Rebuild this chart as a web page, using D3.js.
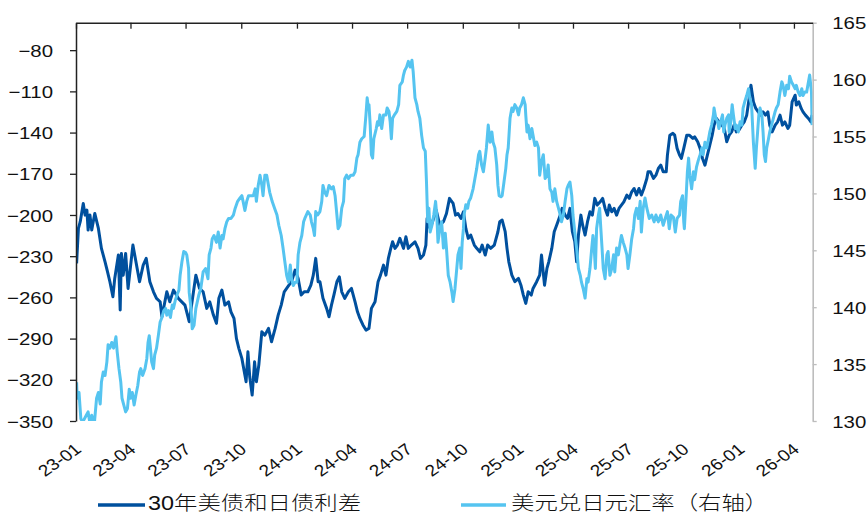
<!DOCTYPE html>
<html>
<head>
<meta charset="utf-8">
<script src="https://cdn.jsdelivr.net/npm/d3@7"></script>
<style>
  html, body { margin: 0; padding: 0; background: #fff; }
  svg { display: block; }
</style>
</head>
<body>
<svg id="chart" width="867" height="515"></svg>
<script>
// 30-year UST minus JGB yield spread (bp, left axis)
const spreadDates = [
  "2023-01-02","2023-01-05","2023-01-08","2023-01-13","2023-01-16","2023-01-19","2023-01-21","2023-01-24","2023-01-27",
  "2023-02-01","2023-02-07","2023-02-12","2023-02-18","2023-02-22","2023-02-26",
  "2023-03-03","2023-03-06","2023-03-12","2023-03-15","2023-03-17","2023-03-20","2023-03-24","2023-03-28",
  "2023-04-05","2023-04-08","2023-04-16","2023-04-22","2023-04-27",
  "2023-05-03","2023-05-09","2023-05-14","2023-05-20","2023-05-23","2023-05-31",
  "2023-06-05","2023-06-11","2023-06-19","2023-06-30",
  "2023-07-07","2023-07-18","2023-07-24","2023-07-30",
  "2023-08-05","2023-08-10","2023-08-16","2023-08-21","2023-08-25","2023-08-30",
  "2023-09-04","2023-09-10","2023-09-14","2023-09-19","2023-09-23","2023-09-27",
  "2023-10-02","2023-10-06","2023-10-09","2023-10-12","2023-10-15","2023-10-19","2023-10-23","2023-10-26","2023-10-30",
  "2023-11-04","2023-11-09","2023-11-15","2023-11-20","2023-11-26",
  "2023-12-01","2023-12-06","2023-12-11","2023-12-17","2023-12-23","2023-12-29",
  "2024-01-03","2024-01-08","2024-01-13","2024-01-19","2024-01-24","2024-01-28",
  "2024-02-01","2024-02-05","2024-02-08","2024-02-13","2024-02-19","2024-02-23","2024-02-27",
  "2024-03-02","2024-03-07","2024-03-11","2024-03-15","2024-03-20","2024-03-26","2024-03-31",
  "2024-04-06","2024-04-10","2024-04-14","2024-04-19","2024-04-24","2024-04-29",
  "2024-05-03","2024-05-09","2024-05-14","2024-05-18","2024-05-23","2024-05-27","2024-05-31",
  "2024-06-04","2024-06-07","2024-06-11","2024-06-15","2024-06-19","2024-06-25","2024-06-29",
  "2024-07-03","2024-07-08","2024-07-14","2024-07-19","2024-07-23","2024-07-28",
  "2024-08-01","2024-08-03","2024-08-08","2024-08-12","2024-08-18","2024-08-24","2024-08-30",
  "2024-09-04","2024-09-09","2024-09-11","2024-09-15","2024-09-19","2024-09-23","2024-09-28",
  "2024-10-02","2024-10-06","2024-10-10","2024-10-14","2024-10-20","2024-10-24","2024-10-29",
  "2024-11-02","2024-11-07","2024-11-11","2024-11-16","2024-11-22","2024-11-28",
  "2024-12-01","2024-12-05","2024-12-10","2024-12-13","2024-12-16","2024-12-21","2024-12-26",
  "2025-01-01","2025-01-05","2025-01-09","2025-01-13","2025-01-17","2025-01-22","2025-01-25","2025-01-31",
  "2025-02-05","2025-02-08","2025-02-13","2025-02-17","2025-02-20","2025-02-25",
  "2025-03-01","2025-03-05","2025-03-11","2025-03-14","2025-03-19","2025-03-23","2025-03-27","2025-03-31",
  "2025-04-04","2025-04-07","2025-04-10","2025-04-14","2025-04-17","2025-04-21","2025-04-25","2025-04-29",
  "2025-05-03","2025-05-07","2025-05-11","2025-05-16","2025-05-20","2025-05-24","2025-05-28","2025-05-31",
  "2025-06-04","2025-06-08","2025-06-12","2025-06-16","2025-06-20","2025-06-24","2025-06-29",
  "2025-07-03","2025-07-07","2025-07-11","2025-07-15","2025-07-19","2025-07-23","2025-07-27",
  "2025-08-01","2025-08-03","2025-08-07","2025-08-12","2025-08-16","2025-08-20","2025-08-24","2025-08-28",
  "2025-09-02","2025-09-04","2025-09-08","2025-09-13","2025-09-16","2025-09-20","2025-09-24","2025-09-27",
  "2025-10-01","2025-10-06","2025-10-10","2025-10-16","2025-10-19","2025-10-24","2025-10-28",
  "2025-11-01","2025-11-05","2025-11-09","2025-11-13","2025-11-17","2025-11-20","2025-11-24","2025-11-28",
  "2025-12-03","2025-12-07","2025-12-11","2025-12-15","2025-12-19","2025-12-23","2025-12-27","2025-12-31",
  "2026-01-05","2026-01-09","2026-01-13","2026-01-17","2026-01-20","2026-01-24","2026-01-28",
  "2026-02-01","2026-02-05","2026-02-09","2026-02-13","2026-02-17","2026-02-20","2026-02-24",
  "2026-03-01","2026-03-05","2026-03-09","2026-03-13","2026-03-17","2026-03-22","2026-03-25","2026-03-29",
  "2026-04-03","2026-04-05","2026-04-09","2026-04-13","2026-04-16","2026-04-20","2026-04-25","2026-04-29",
  "2026-05-01"
];
const spreadValues = [
  -235.2,-209.8,-204.9,-191.6,-200.1,-196.4,-211,-200,-211,
  -198.9,-209.8,-224.3,-234.1,-241.3,-248.6,
  -259.5,-246.2,-229.2,-269.2,-228,-243.8,-228,-253.5,
  -221.9,-229.2,-248.6,-236.5,-231.6,
  -248.6,-255.9,-260.7,-263.2,-274.1,-255.9,
  -263.2,-254.7,-260.7,-265.6,
  -277.7,-243.8,-253.5,-255.9,
  -268,-263.2,-272.9,-278.9,-260.7,-254.7,
  -265.6,-263.2,-270.5,-275.3,-289.8,-297.1,
  -304.4,-314.1,-321.4,-299.6,-317.8,-331.1,-306.9,-321.4,-309.3,
  -285,-287.5,-282.6,-292.3,-282.6,
  -272.9,-265.6,-255.9,-252.2,-248.6,-240.1,
  -246.2,-258.3,-255.9,-255.9,-251.1,-243.8,
  -231.6,-248.6,-248.6,-260.7,-268,-274.1,-265.6,
  -258.3,-248.6,-245,-255.9,-260.7,-255.9,-253.5,
  -263.2,-270.5,-275.3,-280.1,-283.8,-282.6,
  -268,-263.2,-248.6,-243.8,-236.5,-243.8,-231.6,
  -224.3,-219.5,-224.3,-221.9,-217,-224.3,-215.9,
  -224.3,-221.9,-219.5,-224.3,-231.6,-229.2,
  -221.9,-202.5,-209.8,-204.9,-196.4,-207.4,-204.9,
  -198.9,-187.9,-189.2,-191.6,-200.1,-198.9,-202.5,
  -197.7,-209.8,-217,-214.6,-221.9,-224.3,-226.8,
  -221.9,-229.2,-221.9,-224.3,-221.9,-212.2,
  -204.9,-203.7,-212.2,-224.3,-234.1,-243.8,-248.6,
  -246.2,-251.1,-258.3,-264.4,-255.9,-258.3,-253.5,-248.6,
  -243.8,-229.2,-251.1,-238.9,-234.1,-224.3,
  -212.2,-207.4,-200.1,-195.2,-200.1,-202.5,-195.2,-212.2,
  -219.5,-234.1,-214.6,-200.1,-207.4,-214.6,-204.9,-197.7,
  -200.1,-187.9,-192.8,-190.4,-187.9,-195.2,-200.1,-192.8,
  -197.7,-195.2,-200.1,-195.2,-192.8,-190.4,-185.5,
  -187.9,-183.1,-180.7,-185.5,-180.7,-185.5,-180.7,
  -173.4,-168.6,-168.6,-173.4,-171,-166.1,-163.7,-168.6,
  -168.6,-156.4,-141.9,-140.6,-141.9,-151.5,-156.4,-158.8,
  -151.5,-141.9,-141.9,-144.3,-143.1,-146.7,-151.5,
  -158.8,-163.7,-156.4,-149.1,-141.9,-134.6,-129.7,-132.2,
  -134.6,-137,-146.7,-141.9,-139.5,-134.6,-139.5,-138.2,
  -134.6,-132.2,-127.3,-115.2,-105.5,-117.6,-122.4,
  -124.9,-127.3,-124.9,-127.3,-124.9,-134.6,-139.5,
  -134.6,-132.2,-127.3,-134.6,-132.2,-137,-134.6,-117.6,
  -112.8,-120,-117.6,-122.4,-124.9,-127.3,-129.7,-132.2,
  -127.3
];

// USD/JPY (right axis)
const fxDates = [
  "2023-01-02","2023-01-03","2023-01-06","2023-01-09","2023-01-12","2023-01-18","2023-01-21","2023-01-24","2023-01-27","2023-01-31",
  "2023-02-04","2023-02-07","2023-02-10","2023-02-12","2023-02-15","2023-02-18","2023-02-21","2023-02-23","2023-02-26",
  "2023-03-01","2023-03-04","2023-03-08","2023-03-10","2023-03-13","2023-03-16","2023-03-18","2023-03-21","2023-03-24","2023-03-27","2023-03-30",
  "2023-04-01","2023-04-04","2023-04-07","2023-04-10","2023-04-13","2023-04-16","2023-04-18","2023-04-21","2023-04-25","2023-04-28","2023-04-30",
  "2023-05-02","2023-05-04","2023-05-06","2023-05-09","2023-05-11","2023-05-14","2023-05-17","2023-05-20","2023-05-23","2023-05-26","2023-05-29","2023-05-31",
  "2023-06-03","2023-06-06","2023-06-09","2023-06-11","2023-06-14","2023-06-17","2023-06-20","2023-06-22","2023-06-25","2023-06-28",
  "2023-07-01","2023-07-03","2023-07-06","2023-07-07","2023-07-10","2023-07-12","2023-07-15","2023-07-18","2023-07-23","2023-07-26","2023-07-30",
  "2023-08-03","2023-08-07","2023-08-09","2023-08-12","2023-08-14","2023-08-17","2023-08-21","2023-08-24","2023-08-27","2023-08-30",
  "2023-09-01","2023-09-04","2023-09-07","2023-09-10","2023-09-14","2023-09-18","2023-09-21","2023-09-25","2023-09-29",
  "2023-10-02","2023-10-04","2023-10-07","2023-10-10","2023-10-13","2023-10-17","2023-10-21","2023-10-24","2023-10-26","2023-10-29",
  "2023-11-01","2023-11-04","2023-11-06","2023-11-09","2023-11-12","2023-11-15","2023-11-17","2023-11-21","2023-11-25","2023-11-29",
  "2023-12-02","2023-12-06","2023-12-09","2023-12-12","2023-12-15","2023-12-18","2023-12-21","2023-12-23","2023-12-26","2023-12-29",
  "2024-01-01","2024-01-03","2024-01-06","2024-01-09","2024-01-12","2024-01-14","2024-01-19","2024-01-23","2024-01-25","2024-01-28","2024-01-30",
  "2024-02-01","2024-02-04","2024-02-08","2024-02-11","2024-02-13","2024-02-16","2024-02-19","2024-02-23","2024-02-27",
  "2024-03-01","2024-03-04","2024-03-07","2024-03-09","2024-03-12","2024-03-15","2024-03-18","2024-03-20","2024-03-23","2024-03-26","2024-03-30",
  "2024-04-03","2024-04-06","2024-04-09","2024-04-11","2024-04-14","2024-04-17","2024-04-21","2024-04-24","2024-04-26","2024-04-28","2024-04-29",
  "2024-05-01","2024-05-03","2024-05-05","2024-05-07","2024-05-11","2024-05-13","2024-05-15","2024-05-17","2024-05-20","2024-05-23","2024-05-27","2024-05-29",
  "2024-06-01","2024-06-03","2024-06-05","2024-06-07","2024-06-10","2024-06-14","2024-06-17","2024-06-19","2024-06-23","2024-06-25","2024-06-27","2024-06-30",
  "2024-07-03","2024-07-06","2024-07-09","2024-07-11","2024-07-14","2024-07-17","2024-07-19","2024-07-22","2024-07-25","2024-07-28","2024-07-31",
  "2024-08-02","2024-08-04","2024-08-06","2024-08-08","2024-08-11","2024-08-14","2024-08-17","2024-08-19","2024-08-21","2024-08-24","2024-08-27","2024-08-30",
  "2024-09-02","2024-09-04","2024-09-07","2024-09-10","2024-09-13","2024-09-15","2024-09-18","2024-09-21","2024-09-23","2024-09-26","2024-09-28","2024-09-30",
  "2024-10-02","2024-10-03","2024-10-06","2024-10-09","2024-10-11","2024-10-14","2024-10-18","2024-10-21","2024-10-24","2024-10-27","2024-10-29",
  "2024-11-01","2024-11-04","2024-11-07","2024-11-09","2024-11-12","2024-11-15","2024-11-18","2024-11-20","2024-11-23","2024-11-26","2024-11-28","2024-11-30",
  "2024-12-03","2024-12-05","2024-12-08","2024-12-11","2024-12-13","2024-12-15","2024-12-18","2024-12-21","2024-12-23","2024-12-26","2024-12-29",
  "2025-01-01","2025-01-03","2025-01-06","2025-01-09","2025-01-12","2025-01-13","2025-01-15","2025-01-17","2025-01-20","2025-01-23","2025-01-25","2025-01-28","2025-01-31",
  "2025-02-03","2025-02-05","2025-02-08","2025-02-11","2025-02-14","2025-02-17","2025-02-19","2025-02-22","2025-02-25","2025-02-27",
  "2025-03-02","2025-03-05","2025-03-08","2025-03-11","2025-03-13","2025-03-16","2025-03-19","2025-03-22","2025-03-24","2025-03-27","2025-03-30",
  "2025-04-01","2025-04-04","2025-04-07","2025-04-10","2025-04-13","2025-04-15","2025-04-18","2025-04-21","2025-04-24","2025-04-26","2025-04-29",
  "2025-05-02","2025-05-04","2025-05-06","2025-05-08","2025-05-10","2025-05-13","2025-05-15","2025-05-17","2025-05-19","2025-05-21","2025-05-24","2025-05-27","2025-05-29",
  "2025-06-01","2025-06-04","2025-06-07","2025-06-09","2025-06-12","2025-06-15","2025-06-18","2025-06-20","2025-06-23","2025-06-26","2025-06-29",
  "2025-07-01","2025-07-04","2025-07-07","2025-07-10","2025-07-12","2025-07-15","2025-07-18","2025-07-21","2025-07-23","2025-07-26","2025-07-29",
  "2025-08-01","2025-08-05","2025-08-09","2025-08-13","2025-08-16","2025-08-20","2025-08-24","2025-08-28",
  "2025-09-01","2025-09-04","2025-09-07","2025-09-10","2025-09-14","2025-09-17","2025-09-20","2025-09-24","2025-09-26","2025-09-29",
  "2025-10-01","2025-10-02","2025-10-05","2025-10-07","2025-10-09","2025-10-11","2025-10-14","2025-10-17","2025-10-19","2025-10-22","2025-10-25","2025-10-28","2025-10-31",
  "2025-11-02","2025-11-05","2025-11-08","2025-11-11","2025-11-13","2025-11-16","2025-11-19","2025-11-20","2025-11-23","2025-11-26","2025-11-28",
  "2025-12-01","2025-12-04","2025-12-06","2025-12-08","2025-12-11","2025-12-14","2025-12-15","2025-12-17","2025-12-20","2025-12-22","2025-12-25","2025-12-27","2025-12-30",
  "2026-01-02","2026-01-05","2026-01-07","2026-01-10","2026-01-13","2026-01-16","2026-01-18","2026-01-21","2026-01-24","2026-01-27","2026-01-29","2026-01-31",
  "2026-02-02","2026-02-04","2026-02-07","2026-02-09","2026-02-11","2026-02-13","2026-02-15","2026-02-18","2026-02-20","2026-02-23","2026-02-26",
  "2026-03-01","2026-03-03","2026-03-06","2026-03-09","2026-03-12","2026-03-14","2026-03-17","2026-03-20","2026-03-23","2026-03-25","2026-03-28","2026-03-31",
  "2026-04-03","2026-04-05","2026-04-08","2026-04-11","2026-04-14","2026-04-16","2026-04-19","2026-04-22","2026-04-25","2026-04-27","2026-04-30",
  "2026-05-01"
];
const fxValues = [
  133.4,132.0,132.5,130.2,129.9,130.5,130.8,129.8,130.5,129.6,
  132.0,132.5,131.5,133.4,134.3,134.0,135.2,136.7,136.4,
  136.9,136.4,137.4,136.1,134.6,133.4,132.0,131.4,130.8,131.1,132.8,
  132.0,132.5,131.4,132.3,133.1,134.3,134.6,134.0,134.6,135.5,136.9,
  137.5,136.4,135.2,134.6,135.8,136.4,137.5,138.7,139.1,139.7,139.9,139.3,
  139.7,139.1,140.2,139.9,140.6,141.1,141.5,142.8,144.0,144.9,
  144.8,144.6,143.4,141.3,139.9,138.1,138.4,139.9,141.1,141.6,143.1,
  143.4,142.5,144.6,145.2,146.0,146.3,145.7,146.6,145.2,146.3,
  146.0,146.9,147.5,147.8,147.8,148.1,148.7,149.3,149.6,
  149.8,149.3,148.5,149.3,149.8,149.8,149.8,150.4,149.3,150.7,
  151.6,150.7,149.8,151.6,151.6,150.7,150.1,149.3,148.7,148.1,
  147.2,146.3,145.2,144.0,142.8,142.2,143.7,142.5,141.9,142.2,
  142.2,144.6,145.7,146.3,147.5,147.8,148.4,148.1,147.5,146.9,146.3,
  148.4,148.1,148.4,149.3,150.7,150.1,149.8,150.7,150.4,
  150.6,149.8,148.1,146.9,147.2,148.7,149.3,151.3,151.6,151.3,151.6,
  151.6,151.9,153.1,153.4,154.5,154.8,155.0,156.9,158.4,157.5,157.8,
  156.0,153.4,153.1,154.8,155.7,156.3,156.0,156.9,155.7,156.9,156.9,157.5,
  157.2,156.3,154.8,156.6,156.9,157.2,157.8,159.5,159.8,160.4,160.8,161.1,
  161.6,161.1,161.7,160.7,158.4,157.8,157.2,156.6,155.1,154.0,153.7,
  151.0,147.5,148.7,146.6,147.2,148.1,149.3,148.1,145.7,146.9,147.5,145.2,
  146.5,145.2,142.8,142.2,141.3,140.5,141.6,143.4,144.6,145.2,143.4,145.7,
  146.9,148.1,149.0,148.7,149.3,149.6,150.4,151.3,152.2,153.4,153.7,
  152.5,151.9,153.1,154.0,156.0,154.5,155.4,154.5,154.0,152.5,150.7,149.8,
  149.7,149.8,151.0,152.2,153.4,154.0,156.6,157.5,157.2,157.8,157.5,
  156.9,157.5,157.8,158.4,157.8,156.9,155.4,156.0,154.8,155.7,155.1,154.2,154.5,
  154.0,151.6,152.8,153.4,151.3,151.6,152.5,150.4,150.1,149.3,
  150.4,149.3,148.7,148.1,147.5,148.1,149.3,150.4,150.7,151.0,149.8,
  148.1,146.6,145.2,143.4,142.8,142.2,141.6,140.8,142.5,142.2,143.4,
  145.2,146.3,145.2,143.4,146.9,148.1,148.7,146.9,145.2,143.4,142.5,144.6,144.9,
  142.8,143.4,144.6,143.1,145.2,144.6,145.7,146.3,145.7,145.2,144.6,
  143.4,144.6,146.0,146.9,148.1,148.7,147.8,149.3,146.6,148.7,149.6,
  148.7,147.8,148.1,147.5,148.1,147.5,148.1,147.2,
  147.9,148.4,146.9,148.1,147.9,146.6,147.8,148.1,149.3,149.8,
  147.5,146.9,149.8,151.9,153.1,151.6,150.4,151.9,151.2,152.3,152.9,153.4,154.0,
  153.4,154.5,154.0,154.8,155.4,156.0,156.9,157.5,156.6,156.3,155.7,
  156.3,156.9,155.4,156.0,156.6,156.9,155.4,156.0,157.8,156.9,155.7,156.0,155.4,
  156.3,156.0,157.5,158.1,158.6,159.2,158.4,157.8,154.5,152.2,154.0,155.4,
  156.9,157.5,156.9,155.4,153.4,152.8,154.0,154.8,155.4,156.0,156.6,
  157.2,157.5,157.8,158.9,159.8,159.5,158.6,159.5,159.2,160.3,159.8,159.5,
  159.2,159.5,158.9,158.6,159.2,158.6,158.9,158.9,159.8,160.4,158.9,
  156.0
];

const xTickLabels = ["23-01","23-04","23-07","23-10","24-01","24-04","24-07","24-10",
                     "25-01","25-04","25-07","25-10","26-01","26-04"];
const leftTicks  = [-350, -320, -290, -260, -230, -200, -170, -140, -110, -80];
const rightTicks = [130, 135, 140, 145, 150, 155, 160, 165];
const seriesNames  = ["30年美债和日债利差", "美元兑日元汇率（右轴）"];
const seriesColors = ["#00509e", "#55c4f0"];

// ---- layout ----
const plot = { left: 76, right: 812.7, top: 22.7, bottom: 421 };
const stretch = 1.2;                       // text is drawn slightly wide
const numFont = "'Liberation Sans', Arial, sans-serif";
const cjkFont = "'Liberation Sans', 'Noto Sans CJK SC', sans-serif";

const svg = d3.select("#chart");
const parseDay = d3.timeParse("%Y-%m-%d");
const parseTick = d3.timeParse("%y-%m");

const x = d3.scaleTime()
  .domain([new Date(2023, 0, 1), new Date(2026, 4, 2)])
  .range([plot.left, plot.right]);
const yL = d3.scaleLinear().domain([-350, -60]).range([plot.bottom, plot.top]);
const yR = d3.scaleLinear().domain([130, 165]).range([plot.bottom, plot.top]);

const spread = spreadDates.map((d, i) => ({ date: parseDay(d), value: spreadValues[i] }));
const fx = fxDates.map((d, i) => ({ date: parseDay(d), value: fxValues[i] }));
const tickDates = xTickLabels.map(parseTick);

// clip lines to the plot frame
svg.append("defs").append("clipPath").attr("id", "plotClip")
  .append("rect")
  .attr("x", plot.left).attr("y", plot.top)
  .attr("width", plot.right - plot.left).attr("height", plot.bottom - plot.top);

// ---- series ----
const lines = svg.append("g").attr("clip-path", "url(#plotClip)");
lines.append("path")
  .datum(spread)
  .attr("fill", "none")
  .attr("stroke", seriesColors[0])
  .attr("stroke-width", 3)
  .attr("stroke-linejoin", "round")
  .attr("d", d3.line().x(d => x(d.date)).y(d => yL(d.value)));
lines.append("path")
  .datum(fx)
  .attr("fill", "none")
  .attr("stroke", seriesColors[1])
  .attr("stroke-width", 3)
  .attr("stroke-linejoin", "round")
  .attr("d", d3.line().x(d => x(d.date)).y(d => yR(d.value)));

// ---- left axis ----
const gL = svg.append("g")
  .attr("transform", `translate(${plot.left},0)`)
  .call(d3.axisLeft(yL).tickValues(leftTicks).tickSize(6).tickSizeOuter(0).tickFormat(d3.format("d")));
gL.select(".domain").attr("stroke", "#222").attr("stroke-width", 1.5);
gL.selectAll(".tick line").attr("stroke", "#222").attr("stroke-width", 1.3);
gL.selectAll(".tick text")
  .attr("x", null).attr("dy", "0.36em")
  .attr("transform", `translate(-23,0) scale(${stretch},1)`)
  .attr("text-anchor", "end")
  .attr("fill", "#111")
  .style("font-family", numFont).style("font-size", "17px");

// ---- right axis ----
const gR = svg.append("g")
  .attr("transform", `translate(${plot.right},0)`)
  .call(d3.axisRight(yR).tickValues(rightTicks).tickSize(4).tickSizeOuter(0));
gR.select(".domain").attr("stroke", "#bdbdbd").attr("stroke-width", 1.6);
gR.selectAll(".tick line").attr("stroke", "#bdbdbd").attr("stroke-width", 1.3);
gR.selectAll(".tick text")
  .attr("x", null).attr("dy", "0.36em")
  .attr("transform", `translate(19.5,0) scale(${stretch},1)`)
  .attr("text-anchor", "start")
  .attr("fill", "#111")
  .style("font-family", numFont).style("font-size", "17px");

// ---- top frame with quarter ticks pointing inward ----
const gT = svg.append("g")
  .attr("transform", `translate(0,${plot.top})`)
  .call(d3.axisTop(x).tickValues(tickDates).tickSize(-6).tickSizeOuter(0).tickFormat(""));
gT.select(".domain").attr("stroke", "#222").attr("stroke-width", 1.5);
gT.selectAll(".tick line").attr("stroke", "#222").attr("stroke-width", 1.3);

// ---- rotated quarter labels under the plot ----
const gB = svg.append("g")
  .attr("transform", `translate(0,${plot.bottom})`)
  .call(d3.axisBottom(x).tickValues(tickDates).tickSize(0)
    .tickFormat((d, i) => xTickLabels[i]));
gB.select(".domain").remove();
gB.selectAll(".tick text")
  .attr("x", null).attr("y", null).attr("dy", null)
  .attr("transform", `translate(6,30) scale(${stretch},1) rotate(-40)`)
  .attr("text-anchor", "end")
  .attr("fill", "#111")
  .style("font-family", numFont).style("font-size", "16px");

// ---- legend ----
const legendItems = [
  { name: seriesNames[0], color: seriesColors[0], x1: 98,  x2: 145, tx: 148 },
  { name: seriesNames[1], color: seriesColors[1], x1: 461, x2: 506, tx: 511 }
];
const lg = svg.append("g");
legendItems.forEach(item => {
  lg.append("line")
    .attr("x1", item.x1).attr("x2", item.x2)
    .attr("y1", 505).attr("y2", 505)
    .attr("stroke", item.color).attr("stroke-width", 3.5);
  lg.append("text")
    .attr("transform", `translate(${item.tx},510) scale(${stretch},1)`)
    .attr("fill", "#111")
    .style("font-family", cjkFont)
    .style("font-size", "19.5px")
    .style("font-weight", 300)
    .text(item.name);
});
</script>
</body>
</html>
